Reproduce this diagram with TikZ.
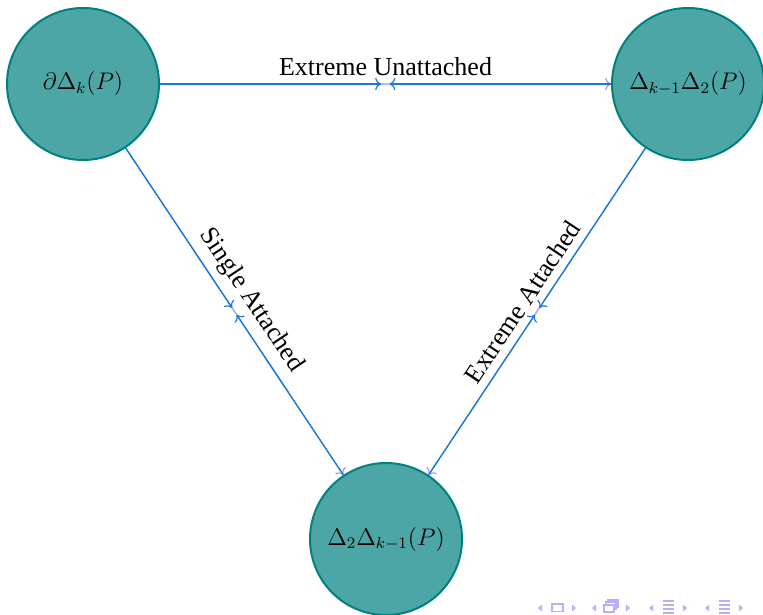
\documentclass[tikz,border=0pt]{standalone}
\usepackage{fontspec}
\setmainfont{Liberation Serif}
\usetikzlibrary{arrows.meta,calc}

\definecolor{wireblue}{RGB}{30,120,215}
\definecolor{tiplav}{RGB}{160,150,240}
\definecolor{navlav}{RGB}{185,175,245}

\tikzset{
    state/.style={circle, draw=teal, fill=teal!70, line width=1pt,
        minimum size=76pt, inner sep=0pt, font=\fontsize{12}{14}\selectfont},
    wire/.style={draw=wireblue, line width=0.6pt},
    lab/.style={font=\fontsize{13}{15}\selectfont, inner sep=4pt},
}

\begin{document}
\begin{tikzpicture}[x=0.5pt, y=-0.5pt]
    \useasboundingbox (0,0) rectangle (763,614);
    \node[state] (boundary) at (83,84) {$\partial\Delta_k(P)$};
    \node[state] (upper) at (688,84) {$\Delta_{k-1}\Delta_2(P)$};
    \node[state] (lower) at (386,539) {$\Delta_2\Delta_{k-1}(P)$};
    % each edge: tip at the target, two tips meeting half way
    \foreach \a/\b in {boundary/upper, boundary/lower, upper/lower} {
        \draw[wire, -{To[color=tiplav]}] (\a) -- coordinate (\a-\b) (\b);
        \draw[tiplav!70, line width=0.6pt] ($(\a-\b)!2.25pt!(\a)$) -- ($(\a-\b)!2pt!(\b)$);
        \draw[wire, -To] (\a) -- ($(\a-\b)!2.25pt!(\a)$);
        \draw[wire, -To] (\b) -- ($(\a-\b)!2pt!(\b)$);
    }
    \path (boundary) -- node[lab, above] (unatt) {Extreme Unattached} (upper);
    \path (boundary) -- node[lab, above, sloped] (single) {Single Attached} (lower);
    \path (upper) -- node[lab, above, sloped] (extatt) {Extreme Attached} (lower);
    % navigation symbols
    \begin{scope}[navlav, line width=0.6pt]
        \foreach \c in {557,611,668,724} {
            \fill (\c-19,608) -- (\c-15,604.5) -- (\c-15,611.5) -- cycle;
            \fill (\c+19,608) -- (\c+15,604.5) -- (\c+15,611.5) -- cycle;
        }
        \draw (552,604) rectangle (563,611.5);
        \draw[fill=white] (608,600) rectangle (618,607);
        \draw[fill=white] (606,602) rectangle (616,609);
        \draw[fill=white] (604,605) rectangle (614,612);
        \foreach \y in {601,605,609,613} {
            \draw (663,\y) -- (674,\y);
            \draw (719,\y) -- (730,\y);
        }
    \end{scope}
\end{tikzpicture}
\end{document}
